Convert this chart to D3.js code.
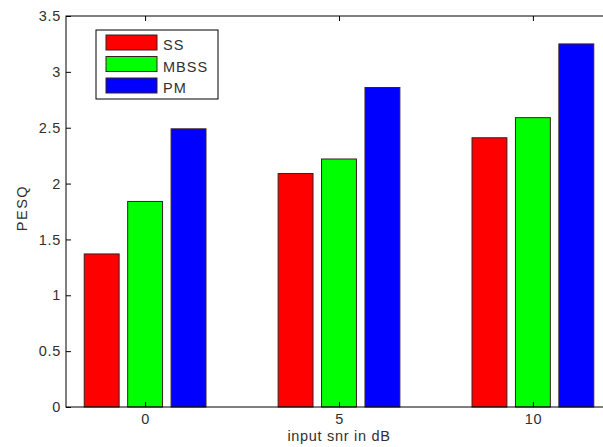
<!DOCTYPE html>
<html>
<head>
<meta charset="utf-8">
<script src="https://cdn.jsdelivr.net/npm/d3@7.9.0/dist/d3.min.js"></script>
<style>
  body { margin: 0; background: #fff; }
  text { font-family: "Liberation Sans", Arial, sans-serif; fill: #303030; font-size: 14.5px; letter-spacing: 0.7px; }
</style>
</head>
<body>
<svg id="chart" width="603" height="447"></svg>
<script>
// data
const snrLevels = [0, 5, 10];
const seriesNames = ["SS", "MBSS", "PM"];
const seriesColors = ["#ff0000", "#00ff00", "#0000ff"];
const ssValues = [1.37, 2.09, 2.41];
const mbssValues = [1.84, 2.22, 2.59];
const pmValues = [2.49, 2.86, 3.25];
const yTicks = [0, 0.5, 1, 1.5, 2, 2.5, 3, 3.5];

const seriesValues = [ssValues, mbssValues, pmValues];

const svg = d3.select("#chart");

// axes box (right side runs off the picture, like the original)
const boxLeft = 66, boxRight = 612, boxTop = 16, boxBottom = 407;

const x = d3.scaleLinear().domain([-2.04, 12.04]).range([boxLeft, boxRight]);
const y = d3.scaleLinear().domain([0, 3.5]).range([boxBottom, boxTop]);

const barOffset = 1.12; // data units between bars in a group
const barWidth = 0.9;

// bars
seriesValues.forEach((vals, s) => {
  svg.append("g")
    .selectAll("rect")
    .data(vals)
    .join("rect")
    .attr("x", (d, i) => x(snrLevels[i] + (s - 1) * barOffset - barWidth / 2))
    .attr("y", d => y(d))
    .attr("width", x(barWidth) - x(0))
    .attr("height", d => y(0) - y(d))
    .attr("fill", seriesColors[s])
    .attr("stroke", "#3a2020")
    .attr("stroke-width", 1);
});

// axes box
svg.append("rect")
  .attr("x", boxLeft).attr("y", boxTop)
  .attr("width", boxRight - boxLeft).attr("height", boxBottom - boxTop)
  .attr("fill", "none").attr("stroke", "#000").attr("stroke-width", 1);

// y axis, ticks inside
const yAxis = svg.append("g")
  .attr("transform", `translate(${boxLeft},0)`)
  .call(d3.axisLeft(y).tickValues(yTicks).tickSize(-5).tickPadding(5)
    .tickFormat(d3.format("")));
yAxis.select(".domain").remove();

// x axis, ticks inside
const xAxis = svg.append("g")
  .attr("transform", `translate(0,${boxBottom})`)
  .call(d3.axisBottom(x).tickValues(snrLevels).tickSize(-5).tickPadding(7));
xAxis.select(".domain").remove();

// top ticks
svg.append("g")
  .attr("transform", `translate(0,${boxTop})`)
  .call(d3.axisTop(x).tickValues(snrLevels).tickSize(-5).tickFormat(""))
  .select(".domain").remove();

svg.selectAll(".tick text").attr("font-family", null).attr("font-size", null).attr("fill", null);
svg.selectAll(".tick line").attr("stroke", "#000");

// axis labels
svg.append("text")
  .attr("x", x(5)).attr("y", 441)
  .attr("text-anchor", "middle")
  .text("input snr in dB");

svg.append("text")
  .attr("transform", "translate(27,208) rotate(-90)")
  .attr("text-anchor", "middle")
  .style("letter-spacing", "1.5px")
  .text("PESQ");

// legend
const legend = svg.append("g");
legend.append("rect")
  .attr("x", 96).attr("y", 30).attr("width", 122).attr("height", 69)
  .attr("fill", "#fff").attr("stroke", "#000");

seriesNames.forEach((name, i) => {
  const y0 = 35 + i * 21.5;
  legend.append("rect")
    .attr("x", 106).attr("y", y0).attr("width", 51).attr("height", 15)
    .attr("fill", seriesColors[i]).attr("stroke", "#3a2020");
  legend.append("text")
    .attr("x", 163).attr("y", y0 + 15)
    .style("letter-spacing", "1px")
    .text(name);
});
</script>
</body>
</html>
